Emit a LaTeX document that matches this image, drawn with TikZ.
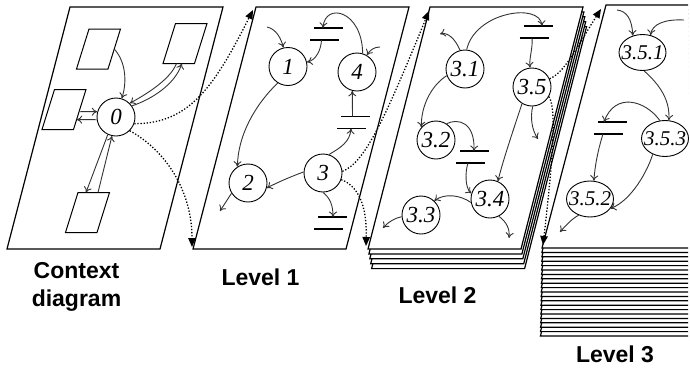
\documentclass[tikz,border=0pt]{standalone}
\usepackage{fontspec}
\setmainfont{Liberation Serif}
\newfontfamily\labfont{Liberation Sans}
\usetikzlibrary{arrows.meta,shapes.geometric}
\begin{document}
\begin{tikzpicture}[x=1pt,y=-1pt,
  sheet/.style={draw=black, line width=1.2pt, fill=white, line join=miter},
  proc/.style={circle, draw=black, line width=0.9pt, fill=white, minimum size=38pt, inner sep=0pt, font=\fontsize{23}{23}\selectfont\itshape},
  ell/.style={ellipse, draw=black, line width=0.9pt, fill=white, minimum width=47pt, minimum height=36pt, inner sep=0pt, font=\fontsize{21}{21}\selectfont\itshape},
  ent/.style={rectangle, minimum width=31.5pt, minimum height=40pt, inner sep=0pt, outer sep=0pt},
  entline/.style={draw=black, line width=1pt, fill=white, line join=miter},
  storenode/.style={rectangle, minimum width=29pt, minimum height=12pt, inner sep=0pt, outer sep=0pt},
  storeline/.style={line width=1.2pt},
  arr/.style={draw=black!80, line width=0.9pt, -{Computer Modern Rightarrow[length=5.5pt,width=8pt]}},
  dotarr/.style={draw=black, line width=1.3pt, dash pattern=on 1.3pt off 1.8pt, -{Triangle[length=9pt,width=7.5pt]}},
  lab/.style={font=\labfont\bfseries\fontsize{23}{28}\selectfont, inner sep=0pt, align=center}
]
\useasboundingbox (0,0) rectangle (690,370);

% sheets
\draw[sheet] (70,7) -- (223,7) -- (160,249) -- (7,249) -- cycle;
\draw[sheet] (256,7) -- (409,7) -- (346,249) -- (193,249) -- cycle;
\foreach \i in {4,3,2,1}
  \draw[sheet, shift={(0.9*\i,4.9*\i)}] (430,7) -- (583,7) -- (521,249) -- (368,249) -- cycle;
\draw[sheet] (430,7) -- (583,7) -- (521,249) -- (368,249) -- cycle;
\begin{scope}
  \clip (530,0) rectangle (688,370);
  \foreach \i in {20,...,1}
    \draw[sheet, shift={(-0.08*\i,4.4*\i)}] (606,5) -- (760,5) -- (697,248) -- (542,248) -- cycle;
  \draw[sheet] (606,5) -- (760,5) -- (697,248) -- (542,248) -- cycle;
\end{scope}

% context diagram
\node[proc] (c0) at (116,117) {0};
\node[ent] (e1) at (98.5,49) {};
\node[ent] (e2) at (185,43.5) {};
\node[ent] (e3) at (64,109.5) {};
\node[ent] (e4) at (87.5,212.5) {};
\foreach \e in {e1,e2,e3,e4}
  \draw[entline] ([xshift=-6.25pt]\e.south west) -- ([xshift=-6.25pt]\e.south east)
    -- ([xshift=6.25pt]\e.north east) -- ([xshift=6.25pt]\e.north west) -- cycle;

% level 1
\node[proc] (n1) at (288,66.5) {1};
\node[proc] (n4) at (357,72) {4};
\node[proc] (n2) at (248,183) {2};
\node[proc] (n3) at (323,173) {3};
\node[storenode] (s1) at (325.5,34) {};
\node[storenode] (s2) at (352.5,122.5) {};
\node[storenode] (s3) at (329.5,223) {};

% level 2
\node[proc] (m1) at (465,69) {3.1};
\node[proc] (m5) at (532,87) {3.5};
\node[proc] (m2) at (436,140) {3.2};
\node[proc] (m4) at (490,199) {3.4};
\node[proc] (m3) at (421,215) {3.3};
\node[storenode] (t1) at (535,32) {};
\node[storenode] (t2) at (471.5,157) {};

% level 3
\node[ell] (q1) at (642.5,52.5) {\makebox[0pt]{3.5.1}};
\node[ell] (q3) at (665,138.5) {\makebox[0pt]{3.5.3}};
\node[ell] (q2) at (590,199) {\makebox[0pt]{3.5.2}};
\node[storenode] (u1) at (609.5,128) {};

\foreach \s in {s1,s2,s3,t1,t2,u1} {
  \draw[storeline] ([xshift=3pt]\s.north west) -- ([xshift=3pt]\s.north east);
  \draw[storeline] ([xshift=-1pt]\s.south west) -- ([xshift=-1pt]\s.south east);
}

% free ends
\coordinate (f1) at (267,27);
\coordinate (f2) at (380,47);
\coordinate (f3) at (220,211);
\coordinate (g1) at (440,34);
\coordinate (g2) at (538,139);
\coordinate (g3) at (383,228);
\coordinate (g4) at (509,238);
\coordinate (h1) at (617,10);
\coordinate (h2) at (684,20);
\coordinate (h3) at (560,232);
\coordinate (L1top) at (253,10);
\coordinate (L1bot) at (192,247);
\coordinate (L2top) at (429,11);
\coordinate (L2bot) at (366,246);
\coordinate (L3top) at (601,9);
\coordinate (L3bot) at (543,245);

% context connectors
\draw[arr] (e1.east) .. controls (126,62) and (127,82) .. (c0);
\draw[arr] (c0.35) .. controls (150,100) and (175,85) .. ([xshift=-3.25pt]e2.south);
\draw[arr] ([xshift=-8.5pt]e2.south) .. controls (170,80) and (145,95) .. (c0.45);
\draw[arr] ([yshift=-2.2pt]e3.east) -- (c0.164);
\draw[arr] (c0.188) -- ([xshift=-3.1pt,yshift=-10.1pt]e3.east);
\draw[arr] (c0.245) -- ([xshift=-1.5pt]e4.north);
\draw[arr] ([xshift=10.5pt]e4.north) -- (c0.258);
\draw[dotarr] (c0.-20) .. controls (190,124) and (215,85) .. (L1top);
\draw[dotarr] (c0.-45) .. controls (165,150) and (192,190) .. (L1bot);

% level 1 connectors
\draw[arr] (f1) .. controls (276,29) and (281,38) .. (n1);
\draw[arr] ([xshift=-4pt]s1.south) .. controls (321,50) and (316,60) .. (n1);
\draw[arr] (n4.73) .. controls (362,10) and (325,2) .. ([xshift=-2.5pt]s1.north);
\draw[arr] (f2) .. controls (374,47) and (370,50) .. (n4);
\draw[arr] (s2.north) -- (n4.256);
\draw[arr] (n3.72) .. controls (340,148) and (350,142) .. ([xshift=-1.5pt]s2.south);
\draw[arr] (n1.238) .. controls (255,105) and (238,135) .. (n2.123);
\draw[arr] (n3.177) .. controls (295,175) and (278,182) .. (n2.-15);
\draw[arr] (n2.212) -- (f3);
\draw[arr] (n3.270) .. controls (330,198) and (333,205) .. ([xshift=3.5pt]s3.north);
\draw[dotarr] (n3.5) .. controls (365,163) and (385,118) .. (L2top);
\draw[dotarr] (n3.-20) .. controls (358,186) and (367,205) .. (L2bot);

% level 2 connectors
\draw[arr] (m1.105) .. controls (455,38) and (447,32) .. (g1);
\draw[arr] (m1.85) .. controls (475,12) and (540,2) .. ([xshift=7pt]t1.north);
\draw[arr] ([xshift=-3pt]t1.south) .. controls (533,48) and (529,58) .. (m5);
\draw[arr] (m1.200) .. controls (432,85) and (421,105) .. (m2.139);
\draw[arr] (m2.57) .. controls (458,118) and (475,122) .. ([xshift=2.5pt]t2.north);
\draw[arr] ([xshift=-3.5pt]t2.south) .. controls (465,172) and (465,188) .. (m4.163);
\draw[arr] (m5.239) .. controls (515,125) and (503,160) .. (m4.66);
\draw[arr] (m5.272) .. controls (530,118) and (532,130) .. (g2);
\draw[arr] (m4.190) .. controls (460,195) and (445,193) .. (m3.47);
\draw[arr] (m3.185) .. controls (395,218) and (388,222) .. (g3);
\draw[arr] (m4.-63) .. controls (507,222) and (510,230) .. (g4);
\draw[dotarr] (m5.25) .. controls (565,72) and (575,50) .. (L3top);
\draw[dotarr] (m5.-30) .. controls (556,106) and (554,150) .. (L3bot);

% level 3 connectors
\draw[arr] (h1) .. controls (626,11) and (632,18) .. (q1.120);
\draw[arr] (h2) .. controls (665,19) and (652,24) .. (q1.65);
\draw[arr] (q1.-85) .. controls (660,85) and (670,100) .. (q3.78);
\draw[arr] (q3.106) .. controls (645,100) and (615,92) .. ([xshift=-5.5pt]u1.north);
\draw[arr] ([xshift=-6.5pt]u1.south) .. controls (598,150) and (595,165) .. (q2.78);
\draw[arr] (q3.232) .. controls (648,170) and (632,200) .. (q2.-25);
\draw[arr] (q2.235) .. controls (573,218) and (566,225) .. (h3);

% labels
\node[lab] (lc) at (76.5,287) {Context\\diagram};
\node[lab, anchor=base] (l1) at (260.5,285) {Level 1};
\node[lab, anchor=base] (l2) at (437.5,303) {Level 2};
\node[lab, anchor=base] (l3) at (615,362) {Level 3};
\end{tikzpicture}
\end{document}
